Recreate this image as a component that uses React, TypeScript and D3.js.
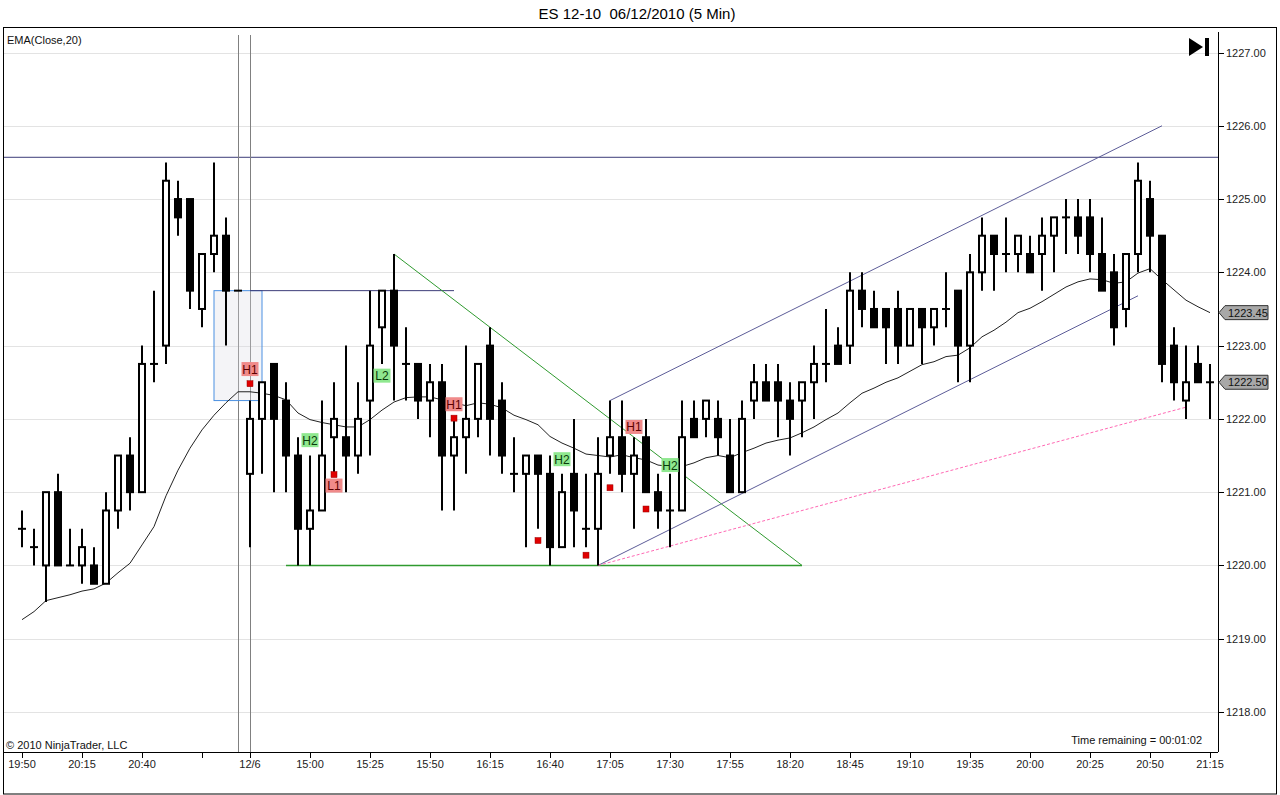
import React from 'react';
import * as d3 from 'd3';

const W = 1280;
const H = 795;

// OHLC per 5-min bar (index 0 = 19:50)
const opens = [1220.5,1220.25,1220,1221,1220,1220,1220,1219.75,1220.75,1221.5,1221,1222.75,1223,1225,1225,1223.5,1224.25,1224.5,1223.75,1221.25,1222,1222.75,1222.25,1221.5,1220.5,1220.75,1221.75,1221.75,1221.5,1222.25,1223.25,1223.75,1222.75,1222.75,1222.25,1222.5,1221.5,1221.75,1222,1223,1222.25,1221.25,1221.25,1221.5,1221.25,1220.25,1221.25,1220.5,1220.5,1221.5,1221.75,1221.25,1221.75,1221,1220.75,1220.75,1222,1222,1222,1221.5,1221,1222.25,1222.5,1222.5,1222.25,1222.25,1222.5,1222.75,1223,1223,1223.75,1223.5,1223.5,1223.5,1223,1223.5,1223.25,1223.5,1223.75,1223,1224,1224.5,1224.25,1224.25,1224.25,1224.25,1224.5,1224.75,1224.75,1224.75,1224.25,1224,1223.5,1224.25,1225,1224.5,1223,1222.25,1222.75,1222.5];
const highs = [1220.75,1220.5,1221,1221.25,1220.5,1220.5,1220.25,1221,1221.5,1221.75,1223,1223.75,1225.5,1225.25,1225,1224.25,1225.5,1224.75,1223.75,1222.25,1222.5,1222.75,1222.5,1221.75,1221.5,1222.25,1222.5,1223,1222.5,1223.75,1223.75,1224.25,1223.25,1222.75,1222.75,1222.75,1222,1223,1222.75,1223.25,1222.5,1221.75,1221.5,1221.5,1221.5,1221.25,1222,1221.25,1221.75,1222.25,1222.25,1221.75,1222,1221.25,1221.25,1222.25,1222.25,1222.25,1222.25,1222,1222.25,1222.75,1222.75,1222.75,1222.5,1222.5,1223,1223.5,1223.25,1224,1224,1223.75,1223.5,1223.75,1223.5,1223.5,1223.5,1224,1223.75,1224.25,1224.75,1224.5,1224.75,1224.5,1224.5,1224.75,1224.75,1225,1225,1225,1224.75,1224.25,1224.25,1225.5,1225.25,1224.5,1223.25,1223,1223,1222.75];
const lows = [1220.25,1220,1219.5,1220,1220,1219.75,1219.75,1219.75,1220.5,1220.75,1221,1222.5,1222.75,1224.5,1223.5,1223.25,1224,1223,1223.75,1220.25,1221.25,1221,1221,1220,1220,1220.75,1221.25,1221,1221.25,1221.5,1222.75,1222.25,1222.25,1222,1221.75,1220.75,1220.75,1221.25,1221.75,1221.5,1221.25,1221,1220.25,1220.5,1220,1220.25,1220.25,1220.25,1220,1221.25,1221,1220.5,1221,1220.5,1220.25,1220.75,1221.75,1221.75,1221.5,1221,1221,1222,1222.25,1221.75,1221.5,1221.75,1222,1222.5,1222.75,1222.75,1223.25,1223.25,1222.75,1222.75,1223,1222.75,1223,1223.25,1222.5,1222.5,1223.75,1223.75,1224,1224,1224,1223.75,1224,1224.25,1224.25,1224,1223.75,1223,1223.25,1224,1224,1222.5,1222.25,1222,1222.5,1222];
const closes = [1220.5,1220.25,1221,1220,1220,1220.25,1219.75,1220.75,1221.5,1221,1222.75,1222.75,1225.25,1224.75,1223.75,1224.25,1224.5,1223.75,1223.75,1222,1222.5,1222,1221.5,1220.5,1220.75,1221.5,1222,1221.5,1222,1223,1223.75,1223,1222.75,1222.25,1222.5,1221.5,1221.75,1222,1222.75,1222,1221.5,1221.25,1221.5,1221.25,1220.25,1221,1220.75,1220.5,1221.25,1221.75,1221.25,1221.5,1221,1220.75,1220.75,1221.75,1221.75,1222.25,1221.75,1221,1222,1222.5,1222.25,1222.25,1222,1222.5,1222.75,1222.75,1222.75,1223.75,1223.5,1223.25,1223.25,1223,1223.5,1223.25,1223.5,1223.5,1223,1224,1224.5,1224.25,1224.25,1224.5,1224,1224.5,1224.75,1224.75,1224.5,1224.25,1223.75,1223.25,1224.25,1225.25,1224.5,1222.75,1222.5,1222.5,1222.5,1222.5];

// EMA(Close,20) as plotted
const ema = [1219.26,1219.37,1219.52,1219.56,1219.6,1219.65,1219.68,1219.76,1219.9,1220.03,1220.28,1220.53,1220.95,1221.3,1221.6,1221.85,1222.05,1222.22,1222.37,1222.37,1222.35,1222.32,1222.26,1222.08,1221.99,1221.95,1221.92,1221.89,1221.89,1221.99,1222.12,1222.23,1222.29,1222.3,1222.3,1222.26,1222.22,1222.18,1222.22,1222.2,1222.15,1222.05,1221.99,1221.92,1221.76,1221.67,1221.6,1221.52,1221.5,1221.48,1221.51,1221.47,1221.44,1221.37,1221.35,1221.35,1221.4,1221.47,1221.5,1221.47,1221.54,1221.6,1221.67,1221.71,1221.74,1221.81,1221.89,1221.99,1222.08,1222.22,1222.35,1222.42,1222.5,1222.56,1222.65,1222.74,1222.78,1222.85,1222.87,1222.97,1223.12,1223.21,1223.32,1223.45,1223.51,1223.6,1223.7,1223.8,1223.87,1223.91,1223.9,1223.85,1223.87,1223.99,1224.05,1223.9,1223.76,1223.62,1223.53,1223.45];

const xTickBars = [0,5,10,15,19,24,29,34,39,44,49,54,59,64,69,74,79,84,89,94,99];
const xTickLabels = ['19:50','20:15','20:40','','12/6','15:00','15:25','15:50','16:15','16:40','17:05','17:30','17:55','18:20','18:45','19:10','19:35','20:00','20:25','20:50','21:15'];
const yTicks = [1218,1219,1220,1221,1222,1223,1224,1225,1226,1227];

// Signal labels: bar, price, text, kind
const sigBars = [19,24,26,30,36,45,51,54];
const sigPrices = [1222.68,1221.71,1221.09,1222.59,1222.2,1221.45,1221.89,1221.37];
const sigTexts = ['H1','H2','L1','L2','H1','H2','H1','H2'];
const sigKinds = ['short','long','short','long','short','long','short','long'];

// Red entry squares
const dotBars = [19,26,36,43,47,49,52];
const dotPrices = [1222.48,1221.24,1222.01,1220.34,1220.14,1221.06,1220.77];

// Drawn objects
const hLinePrice = 1225.57;
const vLineBars = [18,19];
const rectBars = [16,20];
const rectPrices = [1223.75,1222.25];
const shelfBars = [19,36];
const shelfPrice = 1223.75;
const greenDiagBars = [31,65];
const greenDiagPrices = [1224.25,1220];
const greenFlatBars = [22,65];
const greenFlatPrice = 1220;
const chanUpperBars = [49,95];
const chanUpperPrices = [1222.25,1226.0];
const chanLowerBars = [48,93];
const chanLowerPrices = [1220,1223.68];
const pinkBars = [48,97];
const pinkPrices = [1220,1222.16];
const markerPrices = [1223.45,1222.5];
const markerTexts = ['1223.45','1222.50'];

const FONT = '"Liberation Sans", Arial, sans-serif';

export default function App() {
  const x = d3.scaleLinear().domain([0, 99]).range([22, 1210]);
  const y = d3.scaleLinear().domain([1218, 1227]).range([712, 52.5]);
  const plotL = 4, plotR = 1218, plotB = 752;

  const emaLine = d3.line<number>().x((_, i) => x(i)).y(d => y(d))(ema) || '';

  const seg = (b: number[], p: number[]) => ({ x1: x(b[0]), y1: y(p[0]), x2: x(b[1]), y2: y(p[1]) });

  return (
    <svg width={W} height={H} style={{ position: 'absolute', left: 0, top: 0, background: '#fff' }} fontFamily={FONT}>
      <rect x={0} y={0} width={W} height={H} fill="#fff" />
      <text x={637} y={19} textAnchor="middle" fontSize={15} fill="#000" style={{ whiteSpace: 'pre' }}>{'ES 12-10  06/12/2010 (5 Min)'}</text>
      <rect x={3.5} y={27.5} width={1273} height={766.5} fill="none" stroke="#000" strokeWidth={1} />

      {/* gridlines */}
      {yTicks.map(t => (
        <line key={'g' + t} x1={plotL} x2={plotR} y1={Math.round(y(t)) + 0.5} y2={Math.round(y(t)) + 0.5} stroke="#e3e3e3" strokeWidth={1} />
      ))}

      {/* horizontal resistance */}
      <line x1={plotL} x2={plotR} y1={y(hLinePrice)} y2={y(hLinePrice)} stroke="#3c3c78" strokeWidth={1} />

      {/* vertical lines */}
      {vLineBars.map(b => (
        <line key={'v' + b} x1={x(b) + 0.5} x2={x(b) + 0.5} y1={35} y2={plotB} stroke="#808080" strokeWidth={1} />
      ))}

      {/* blue rectangle */}
      <rect x={x(rectBars[0])} y={y(rectPrices[0])} width={x(rectBars[1]) - x(rectBars[0])} height={y(rectPrices[1]) - y(rectPrices[0])}
        fill="#dcdce4" fillOpacity={0.3} stroke="#4a90e2" strokeWidth={1} />

      {/* shelf line */}
      <line x1={x(shelfBars[0])} x2={x(shelfBars[1])} y1={y(shelfPrice)} y2={y(shelfPrice)} stroke="#3c3c78" strokeWidth={1} />

      {/* green lines */}
      <line {...seg(greenDiagBars, greenDiagPrices)} stroke="#2f9a2f" strokeWidth={1} />
      <line x1={x(greenFlatBars[0])} x2={x(greenFlatBars[1])} y1={y(greenFlatPrice)} y2={y(greenFlatPrice)} stroke="#2f9a2f" strokeWidth={1.5} />

      {/* channel */}
      <line {...seg(chanUpperBars, chanUpperPrices)} stroke="#5c5c98" strokeWidth={1} />
      <line {...seg(chanLowerBars, chanLowerPrices)} stroke="#5c5c98" strokeWidth={1} />

      {/* pink dashed */}
      <line {...seg(pinkBars, pinkPrices)} stroke="#ff69b4" strokeWidth={1} strokeDasharray="3,2" />

      {/* EMA */}
      <path d={emaLine} fill="none" stroke="#222" strokeWidth={1} />

      {/* candles */}
      {opens.map((o, i) => {
        const c = closes[i];
        const cx = Math.round(x(i));
        const up = c > o;
        const top = y(Math.max(o, c));
        const bot = y(Math.min(o, c));
        return (
          <g key={'c' + i}>
            <line x1={cx} x2={cx} y1={y(highs[i])} y2={y(lows[i])} stroke="#000" strokeWidth={2} />
            {o === c ? (
              <line x1={cx - 4} x2={cx + 4} y1={top} y2={top} stroke="#000" strokeWidth={2} />
            ) : (
              <rect x={cx - 3} y={top} width={6} height={bot - top} fill={up ? '#fff' : '#000'} stroke="#000" strokeWidth={2} />
            )}
          </g>
        );
      })}

      {/* red dots */}
      {dotBars.map((b, i) => (
        <rect key={'d' + i} x={x(b) - 3} y={y(dotPrices[i]) - 3} width={6} height={6} fill="#e00000" stroke="#900" strokeWidth={0.5} />
      ))}

      {/* signal labels */}
      {sigBars.map((b, i) => {
        const cx = x(b);
        const cy = y(sigPrices[i]);
        const long = sigKinds[i] === 'long';
        return (
          <g key={'s' + i}>
            <rect x={cx - 8.5} y={cy - 7} width={17} height={14} fill={long ? '#8fe88f' : '#f08a8a'} />
            <text x={cx} y={cy + 4.5} textAnchor="middle" fontSize={12} fill={long ? '#0a3a0a' : '#5a0000'}>{sigTexts[i]}</text>
          </g>
        );
      })}

      {/* axes */}
      <line x1={plotR + 0.5} x2={plotR + 0.5} y1={32} y2={plotB} stroke="#000" strokeWidth={1} />
      <line x1={plotL} x2={plotR} y1={plotB + 0.5} y2={plotB + 0.5} stroke="#000" strokeWidth={1} />
      {yTicks.map(t => (
        <g key={'yt' + t}>
          <line x1={plotR} x2={plotR + 6} y1={Math.round(y(t)) + 0.5} y2={Math.round(y(t)) + 0.5} stroke="#000" />
          <text x={1226} y={y(t) + 4} fontSize={11} fill="#222">{t.toFixed(2)}</text>
        </g>
      ))}
      {xTickBars.map((b, i) => (
        <g key={'xt' + b}>
          <line x1={Math.round(x(b)) + 0.5} x2={Math.round(x(b)) + 0.5} y1={plotB} y2={plotB + 6} stroke="#000" />
          <text x={x(b)} y={768} textAnchor="middle" fontSize={11} fill="#222">{xTickLabels[i]}</text>
        </g>
      ))}

      {/* price markers */}
      {markerPrices.map((p, i) => {
        const py = y(p);
        return (
          <g key={'m' + i}>
            <path d={`M1219,${py} L1225,${py - 7} L1268,${py - 7} L1268,${py + 7} L1225,${py + 7} Z`} fill="#a8a8a8" stroke="#333" strokeWidth={1} />
            <text x={1228} y={py + 4} fontSize={11} fill="#111">{markerTexts[i]}</text>
          </g>
        );
      })}

      {/* play-end icon */}
      <path d="M1189,38 L1203,47 L1189,56 Z" fill="#000" />
      <rect x={1205} y={38} width={4} height={18} fill="#000" />

      <text x={7} y={44} fontSize={11} fill="#111">EMA(Close,20)</text>
      <text x={6} y={749} fontSize={11} fill="#111">© 2010 NinjaTrader, LLC</text>
      <text x={1202} y={744} textAnchor="end" fontSize={11} fill="#111">Time remaining = 00:01:02</text>
    </svg>
  );
}
